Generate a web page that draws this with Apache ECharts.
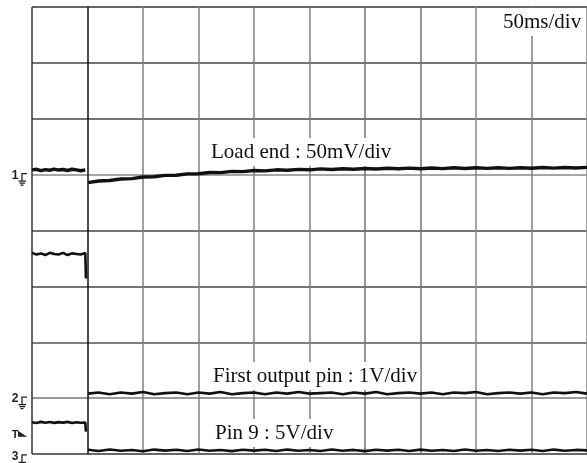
<!DOCTYPE html>
<html>
<head>
<meta charset="utf-8">
<script src="https://cdn.jsdelivr.net/npm/echarts@6/dist/echarts.min.js"></script>
<style>
  html, body { margin: 0; padding: 0; background: #fff; }
  #scope { width: 587px; height: 463px; }
</style>
</head>
<body>
<div id="scope"></div>
<script>
// --- scope settings (divisions) ---
var timePerDiv = 50;            // ms/div
var ch1Scale = 50;              // mV/div, load end
var ch2Scale = 1;               // V/div, first output pin
var ch3Scale = 5;               // V/div, pin 9
var groundDiv = [5, 1, -0.035]; // ground marker position of ch1..ch3
var trigLevel = 1.9;            // V on ch3

// --- samples before the switch (ms) ---
var timePre = [0, 4, 8, 12, 16, 20, 24, 28, 32, 36, 40, 44, 48];
var ch1Pre = [4.2, 4.8, 3.6, 4.5, 3.9, 4.9, 4.1, 4.6, 3.7, 4.8, 4.2, 3.5, 4.3];
var ch2Pre = [2.60, 2.57, 2.59, 2.56, 2.60, 2.58, 2.57, 2.60, 2.56, 2.59, 2.58, 2.57, 2.60];
var ch3Pre = [3.02, 2.95, 3.05, 2.97, 3.04, 2.96, 3.03, 2.98, 3.05, 2.95, 3.02, 2.97, 3.0];

// partially visible falling edges
var edgeTime = 48.6;
var ch2EdgeEnd = 2.14;
var ch3EdgeEnd = 2.17;

// --- samples after the switch (ms) ---
var timePost = [50.5, 60, 70, 80, 90, 100, 110, 120, 130, 140, 150, 160, 170, 180, 190, 200,
  210, 220, 230, 240, 250, 260, 270, 280, 290, 300, 310, 320, 330, 340, 350, 360, 370, 380,
  390, 400, 410, 420, 430, 440, 450, 460, 470, 480, 490, 500];
var ch1Post = [-7.2, -5.7, -5.3, -3.9, -3.6, -2.1, -1.9, -0.7, -0.6, 0.7, 0.8, 1.9, 1.8, 2.9, 2.7, 3.7,
  3.4, 4.3, 3.9, 4.7, 4.3, 5.1, 4.6, 5.3, 4.8, 5.5, 5.0, 5.7, 5.2, 5.8, 5.3, 5.9, 5.4, 6.1,
  5.5, 6.1, 5.6, 6.2, 5.6, 6.2, 5.7, 6.4, 5.8, 6.4, 5.9, 6.5];
var ch2Post = [0.08, 0.10, 0.07, 0.10, 0.08, 0.11, 0.07, 0.09, 0.10, 0.07, 0.10, 0.08, 0.11, 0.07, 0.09, 0.10,
  0.07, 0.10, 0.08, 0.11, 0.08, 0.09, 0.10, 0.07, 0.10, 0.08, 0.11, 0.07, 0.09, 0.10, 0.08, 0.10,
  0.07, 0.10, 0.09, 0.11, 0.07, 0.09, 0.10, 0.08, 0.10, 0.07, 0.10, 0.09, 0.11, 0.08];
var ch3Post = [0.55, 0.45, 0.58, 0.46, 0.54, 0.42, 0.57, 0.48, 0.55, 0.44, 0.58, 0.47, 0.53, 0.43, 0.56, 0.48,
  0.55, 0.44, 0.57, 0.46, 0.53, 0.45, 0.58, 0.47, 0.54, 0.43, 0.56, 0.48, 0.55, 0.45, 0.57, 0.46,
  0.54, 0.44, 0.58, 0.47, 0.53, 0.45, 0.56, 0.48, 0.55, 0.44, 0.57, 0.46, 0.54, 0.50];

// grid line colours (left to right, bottom to top)
var xGridColors = ['#333', '#111', '#808080', '#808080', '#808080', '#808080', '#707070', '#707070', '#888', '#808080', '#808080'];
var yGridColors = ['#333', '#777', '#555', '#444', '#444', '#888', '#444', '#444', '#333'];

function toDiv(times, vals, ch, scale) {
  return times.map(function (t, i) { return [t, groundDiv[ch] + vals[i] / scale]; });
}

var ch2PreData = toDiv(timePre, ch2Pre, 1, ch2Scale)
  .concat(toDiv([edgeTime, edgeTime], [ch2Pre[ch2Pre.length - 1], ch2EdgeEnd], 1, ch2Scale));
var ch3PreData = toDiv(timePre, ch3Pre, 2, ch3Scale)
  .concat(toDiv([edgeTime, edgeTime], [ch3Pre[ch3Pre.length - 1], ch3EdgeEnd], 2, ch3Scale));

function trace(data, width) {
  return {
    type: 'line', data: data, showSymbol: false, symbol: 'none', silent: true,
    lineStyle: { color: '#111', width: width }
  };
}

var dom = document.getElementById('scope');
var chart = echarts.init(dom, null, { renderer: 'canvas' });

chart.setOption({
  animation: false,
  backgroundColor: '#fff',
  grid: { left: 32, top: 7, width: 557, height: 447 },
  xAxis: {
    type: 'value', min: 0, max: 10 * timePerDiv, interval: timePerDiv,
    axisLine: { show: false }, axisTick: { show: false }, axisLabel: { show: false },
    splitLine: { show: true, lineStyle: { color: xGridColors, width: 1.5 } }
  },
  yAxis: {
    type: 'value', min: 0, max: 8, interval: 1,
    axisLine: { show: false }, axisTick: { show: false }, axisLabel: { show: false },
    splitLine: { show: true, lineStyle: { color: yGridColors, width: 1.5 } }
  },
  series: [
    trace(toDiv(timePre, ch1Pre, 0, ch1Scale), 3.4),
    trace(toDiv(timePost, ch1Post, 0, ch1Scale), 3.4),
    trace(ch2PreData, 2.6),
    trace(toDiv(timePost, ch2Post, 1, ch2Scale), 2.6),
    trace(ch3PreData, 2.6),
    trace(toDiv(timePost, ch3Post, 2, ch3Scale), 2.6)
  ]
});

// channel ground markers + labels
var serif = '21px "Liberation Serif", "Times New Roman", serif';
function label(text, x, y) {
  return {
    type: 'text', x: x, y: y, z: 100,
    style: {
      text: text, font: serif, fill: '#111', align: 'left', verticalAlign: 'middle',
      backgroundColor: '#fff', padding: [4, 3, 3, 3]
    }
  };
}

var gfx = [
  label('50ms/div', 500, 22),
  label('Load end : 50mV/div', 208, 152),
  label('First output pin : 1V/div', 210, 376),
  label('Pin 9 : 5V/div', 212, 433)
];

var stroke = { stroke: '#222', lineWidth: 1.3, fill: null };
groundDiv.forEach(function (g, i) {
  var y = chart.convertToPixel({ gridIndex: 0 }, [0, g])[1];
  gfx.push({ type: 'text', x: 15, y: y + 1, style: { text: String(i + 1), font: 'bold 12px "Liberation Sans"', fill: '#222', align: 'center', verticalAlign: 'middle' } });
  gfx.push({ type: 'polyline', shape: { points: [[27, y - 1], [22, y - 1], [22, y + 6]] }, style: stroke });
  gfx.push({ type: 'line', shape: { x1: 18.5, y1: y + 6.5, x2: 26, y2: y + 6.5 }, style: stroke });
  gfx.push({ type: 'line', shape: { x1: 19.5, y1: y + 8.5, x2: 25, y2: y + 8.5 }, style: stroke });
  gfx.push({ type: 'line', shape: { x1: 20.5, y1: y + 10.5, x2: 23.5, y2: y + 10.5 }, style: stroke });
});

// trigger level marker on ch3
var yT = chart.convertToPixel({ gridIndex: 0 }, [0, groundDiv[2] + trigLevel / ch3Scale])[1];
gfx.push({ type: 'text', x: 15, y: yT, style: { text: 'T', font: 'bold 11px "Liberation Sans"', fill: '#222', align: 'center', verticalAlign: 'middle' } });
gfx.push({ type: 'polygon', shape: { points: [[18, yT - 4], [18, yT + 2], [27, yT + 2]] }, style: { fill: '#222' } });

chart.setOption({ graphic: gfx });
window.addEventListener('resize', function () { chart.resize(); });
</script>
</body>
</html>
